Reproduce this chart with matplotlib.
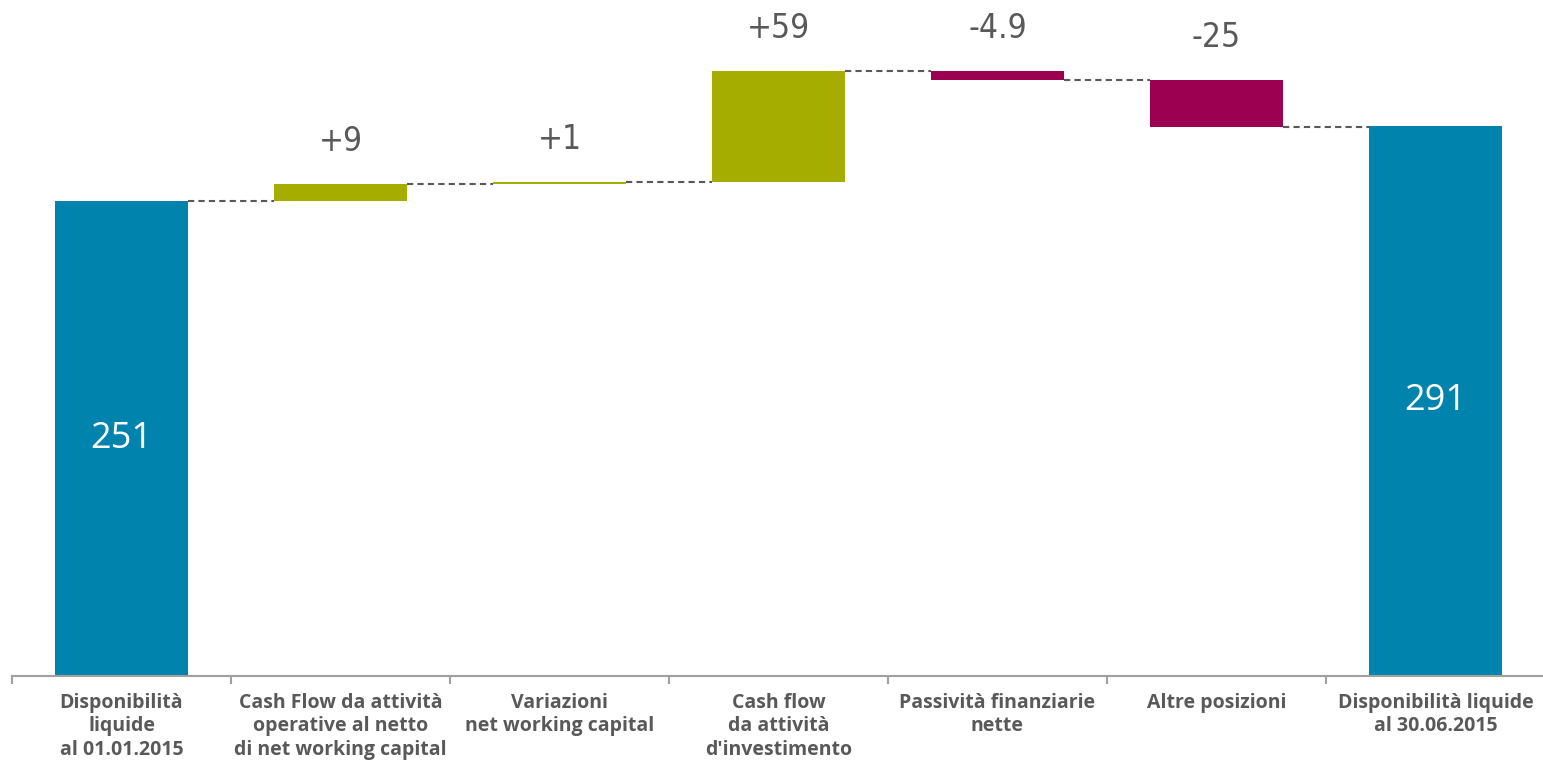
import numpy as np
import matplotlib
matplotlib.use('Agg')
import matplotlib.pyplot as plt
from matplotlib import font_manager

# data
categories = [
    "Disponibilità\nliquide\nal 01.01.2015",
    "Cash Flow da attività\noperative al netto\ndi net working capital",
    "Variazioni\nnet working capital",
    "Cash flow\nda attività\nd'investimento",
    "Passività finanziarie\nnette",
    "Altre posizioni",
    "Disponibilità liquide\nal 30.06.2015",
]
start_value = 251
deltas = [9, 1, 59, -4.9, -25]
end_value = 291
delta_labels = ["+9", "+1", "+59", "-4.9", "-25"]

BLUE = "#0083AD"
GREEN = "#A5AD00"
MAGENTA = "#9C0050"
GREY = "#595959"

# narrow font for the delta labels, if installed
names = {f.name for f in font_manager.fontManager.ttflist}
narrow = [n for n in ['Liberation Sans Narrow', 'DejaVu Sans Condensed'] if n in names]

fig = plt.figure(figsize=(15.43, 7.64), dpi=100)
ax = fig.add_axes([12 / 1543, 88 / 764, 1533 / 1543, 676 / 764])

n = len(categories)
x = np.arange(n)
w = 0.61

# cumulative levels
levels = [start_value]
for d in deltas:
    levels.append(levels[-1] + d)

# totals
ax.bar(x[0], start_value, width=w, color=BLUE, zorder=2)
ax.bar(x[-1], end_value, width=w, color=BLUE, zorder=2)
for xi, v in [(x[0], start_value), (x[-1], end_value)]:
    ax.text(xi, v / 2, str(v), ha='center', va='center',
            color='white', fontsize=26, family=['Open Sans', 'DejaVu Sans'])

# deltas
for i, d in enumerate(deltas):
    base = levels[i]
    col = GREEN if d >= 0 else MAGENTA
    ax.bar(x[i + 1], d, bottom=base, width=w, color=col, zorder=2)
    top = max(base, base + d)
    ax.annotate(delta_labels[i], (x[i + 1], top), xytext=(0, 19),
                textcoords='offset points', ha='center', va='bottom',
                color=GREY, fontsize=24, stretch='condensed',
                family=narrow + ['DejaVu Sans'])

# connectors
for i in range(n - 1):
    lvl = levels[i]
    ax.plot([x[i] + w / 2, x[i + 1] - w / 2], [lvl, lvl], ls=(0, (3, 2)),
            color=GREY, lw=1.5, zorder=1)

ax.set_xlim(-0.5, n - 0.5)
ax.set_ylim(0, 357.5)
for s in ['top', 'right', 'left']:
    ax.spines[s].set_visible(False)
ax.spines['bottom'].set_color('#A0A0A0')
ax.spines['bottom'].set_linewidth(1.5)
ax.set_yticks([])
ax.set_xticks(np.arange(-0.5, n, 1.0))
ax.set_xticklabels([])
ax.tick_params(axis='x', length=6, color='#A0A0A0', width=1.5)
ax.set_xticks(x, minor=True)
ax.set_xticklabels(categories, minor=True, color=GREY, fontsize=14,
                   fontweight='bold', linespacing=1.25,
                   family=['Open Sans', 'DejaVu Sans'])
ax.tick_params(axis='x', which='minor', length=0, pad=12)

fig.savefig('out.png', dpi=100)
